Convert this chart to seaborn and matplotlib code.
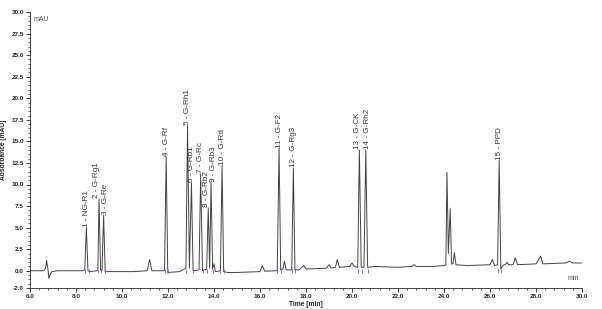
import matplotlib
matplotlib.use("Agg")
import matplotlib.pyplot as plt
from matplotlib.ticker import MultipleLocator, FixedLocator
from matplotlib.transforms import offset_copy
import seaborn as sns
import pandas as pd

# Chromatogram trace (time in min, absorbance in mAU)
time = [6.0, 6.6, 6.68, 6.72, 6.78, 6.82, 6.88, 6.95, 7.2, 8.3, 8.38, 8.45, 8.52, 8.6,
        8.9, 8.95, 9.0, 9.07, 9.13, 9.2, 9.27, 9.5, 10.5, 11.1, 11.2, 11.3, 11.85, 11.92,
        11.99, 12.5, 12.78, 12.85, 12.93, 13.02, 13.09, 13.35, 13.42, 13.5, 13.68, 13.75,
        13.81, 13.87, 13.94, 14.0, 14.06, 14.28, 14.35, 14.42, 14.6, 15.0, 16.0, 16.1,
        16.2, 16.75, 16.83, 16.9, 17.0, 17.06, 17.14, 17.38, 17.45, 17.52, 17.7, 17.9,
        18.0, 18.9, 19.0, 19.1, 19.28, 19.36, 19.45, 19.9, 20.0, 20.1, 20.25, 20.32,
        20.4, 20.52, 20.6, 20.68, 21.0, 22.0, 22.6, 22.7, 22.8, 23.5, 24.0, 24.08,
        24.13, 24.19, 24.27, 24.33, 24.39, 24.45, 24.52, 25.0, 26.0, 26.1, 26.2, 26.33,
        26.4, 26.47, 26.55, 26.7, 26.75, 26.8, 27.0, 27.1, 27.2, 28.0, 28.2, 28.3,
        29.3, 29.45, 29.6, 30.0]
absorbance = [0.0, 0.0, 0.3, 1.2, 0.2, -0.9, -0.4, -0.1, 0.0, 0.0, 0.1, 5.0, 0.0, -0.1,
              0.0, 0.1, 8.3, 0.1, 0.0, 6.4, -0.1, -0.1, -0.1, 0.0, 1.3, 0.0, 0.0, 13.2,
              -0.2, -0.1, 0.3, 16.8, 0.3, 10.2, 0.0, 0.1, 11.2, 0.0, 0.2, 7.3,
              0.3, 10.2, 0.2, 0.8, -0.1, 0.0, 12.2, -0.1, -0.2, -0.2, -0.1, 0.6,
              -0.05, 0.0, 14.2, 0.1, 0.2, 1.1, 0.1, 0.1, 11.9, 0.1, 0.1, 0.6,
              0.2, 0.3, 0.7, 0.3, 0.4, 1.3, 0.4, 0.5, 0.9, 0.5, 0.4, 14.0,
              0.4, 0.4, 14.0, 0.4, 0.5, 0.4, 0.5, 0.7, 0.5, 0.5, 0.6, 0.7,
              11.4, 2.0, 7.2, 0.8, 0.8, 2.1, 0.7, 0.6, 0.7, 1.3, 0.6, 0.7,
              12.8, 0.2, 0.6, 0.8, 1.0, 0.7, 0.7, 1.5, 0.7, 0.8, 1.7, 0.8,
              0.9, 1.1, 0.9, 0.9]

# Labelled peaks
peak_names = ["1 - NG-R1", "2 - G-Rg1", "3 - G-Re", "4 - G-Rf", "5 - G-Rh1", "6 - G-Rb1",
              "7 - G-Rc", "8 - G-Rb2", "9 - G-Rb3", "10 - G-Rd", "11 - G-F2", "12 - G-Rg3",
              "13 - G-CK", "14 - G-Rh2", "15 - PPD"]
peak_times = [8.45, 9.0, 9.2, 11.92, 12.85, 13.02, 13.42, 13.75, 13.87, 14.35, 16.83,
              17.45, 20.32, 20.6, 26.4]
peak_heights = [5.0, 8.3, 6.4, 13.2, 16.8, 10.2, 11.2, 7.3, 10.2, 12.2, 14.2, 11.9,
                14.0, 14.0, 12.8]
label_nudge = [0, -1.6, 1.6, 0, 0, 0, 0, -1.6, 1.6, 0, 0, 0, -1.2, 1.2, 0]

# Integration markers (peak start/end)
marker_times = [8.38, 8.55, 8.95, 9.07, 9.27, 11.85, 11.99, 12.78, 13.09, 13.5, 13.68,
                13.94, 14.28, 14.42, 16.75, 16.9, 17.38, 17.52, 20.25, 20.45, 20.68,
                26.33, 26.47]

x_ticks = [6.0, 8.0, 10.0, 12.0, 14.0, 16.0, 18.0, 20.0, 22.0, 24.0, 26.0, 28.0, 30.0]
y_ticks = [-2.0, 0.0, 2.5, 5.0, 7.5, 10.0, 12.5, 15.0, 17.5, 20.0, 22.5, 25.0, 27.5, 30.0]

sns.set_style("ticks")
plt.rcParams['font.family'] = ['Liberation Sans', 'DejaVu Sans']

fig = plt.figure(figsize=(6.02, 3.09), dpi=100)
ax = fig.add_axes([30 / 602, 1 - 288 / 309, 552 / 602, 276 / 309])

df = pd.DataFrame({"Time": time, "Absorbance": absorbance})
sns.lineplot(data=df, x="Time", y="Absorbance", sort=False, ax=ax,
             color="#444444", linewidth=0.7, estimator=None)

mk = pd.DataFrame({"t": marker_times})
ax.scatter(mk["t"], [0.0] * len(mk), marker="|", s=12, color="#b040c0", linewidths=0.6, zorder=3)

for name, t, h, dx in zip(peak_names, peak_times, peak_heights, label_nudge):
    tr = offset_copy(ax.transData, fig=fig, x=dx, y=0.5, units="points")
    ax.text(t, h, name, rotation=90, ha="center", va="bottom", transform=tr,
            fontsize=5.9, color="#3a3a3a")

ax.set_xlim(6.0, 30.0)
ax.set_ylim(-2.0, 30.0)
ax.xaxis.set_major_locator(FixedLocator(x_ticks))
ax.yaxis.set_major_locator(FixedLocator(y_ticks))
ax.xaxis.set_minor_locator(MultipleLocator(0.4))
ax.yaxis.set_minor_locator(MultipleLocator(0.5))
ax.set_xticklabels([f"{v:.1f}" for v in x_ticks], fontsize=4.6, fontweight="bold")
ax.set_yticklabels([f"{v:.1f}" for v in y_ticks], fontsize=4.6, fontweight="bold")
ax.tick_params(axis="both", which="major", length=3, width=0.6, pad=1.5)
ax.tick_params(axis="both", which="minor", length=1.5, width=0.5)
sns.despine(ax=ax)
for s in ["left", "bottom"]:
    ax.spines[s].set_linewidth(0.6)

ax.set_xlabel("Time [min]", fontsize=4.8, fontweight="bold", labelpad=1)
ax.set_ylabel("Absorbance [mAU]", fontsize=4.8, fontweight="bold", labelpad=3)
ax.text(0.006, 0.985, "mAU", transform=ax.transAxes, fontsize=5, color="#555555", va="top", ha="left")
ax.text(0.995, 0.02, "min", transform=ax.transAxes, fontsize=5, color="#555555", va="bottom", ha="right")

fig.savefig("out.png", dpi=100)
